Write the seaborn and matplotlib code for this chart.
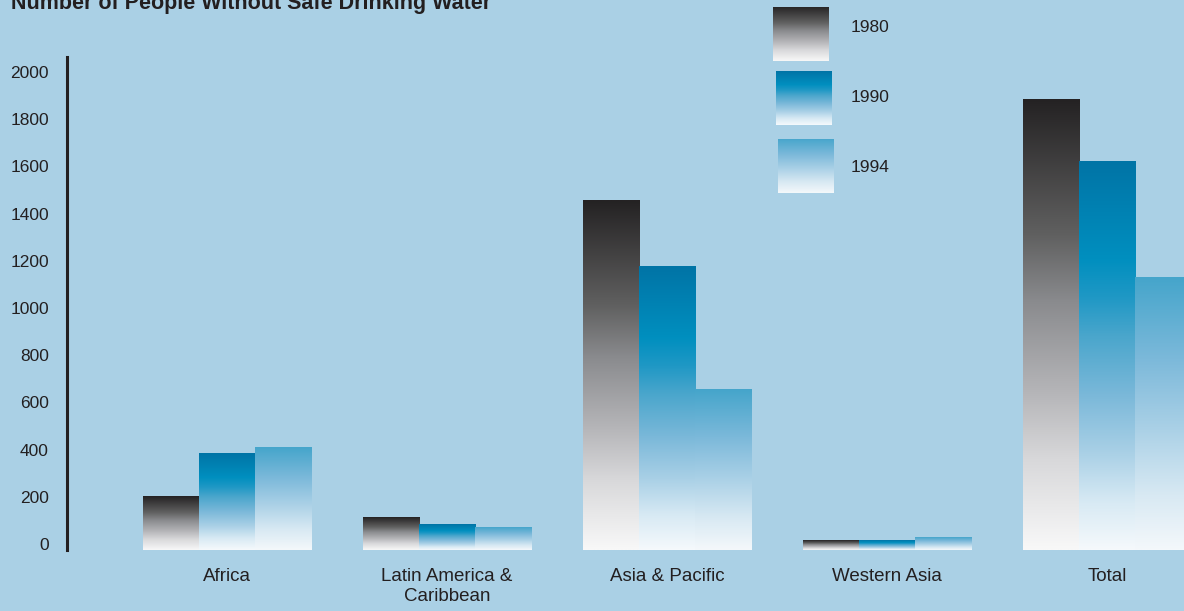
import numpy as np
import pandas as pd
import seaborn as sns
import matplotlib.pyplot as plt
from matplotlib.colors import LinearSegmentedColormap

# data
regions = ['Africa', 'Latin America &\nCaribbean', 'Asia & Pacific', 'Western Asia', 'Total']
years = ['1980', '1990', '1994']
people_1980 = [225, 136, 1483, 42, 1907]
people_1990 = [407, 106, 1203, 40, 1648]
people_1994 = [436, 97, 678, 51, 1153]
y_ticks = [0, 200, 400, 600, 800, 1000, 1200, 1400, 1600, 1800, 2000]

bg = '#aad0e5'
ink = '#231f20'

# gradient colormaps, first stop = bottom of the bar
cmaps = {
    '1980': LinearSegmentedColormap.from_list('g80', [
        (0.0, '#f8f8f8'), (0.2, '#d8d8da'), (0.35, '#b5b5b8'),
        (0.55, '#8a8b8e'), (0.7, '#606060'), (1.0, '#242223')]),
    '1990': LinearSegmentedColormap.from_list('g90', [
        (0.0, '#f5f9fc'), (0.12, '#d8eaf4'), (0.25, '#a9d0e6'),
        (0.4, '#7ab8d9'), (0.55, '#4aa6cc'), (0.65, '#1f98c5'),
        (0.75, '#008fbf'), (1.0, '#0074a6')]),
    '1994': LinearSegmentedColormap.from_list('g94', [
        (0.0, '#f4f8fb'), (0.2, '#d8e9f3'), (0.45, '#a9d0e6'),
        (0.7, '#7cb9da'), (1.0, '#45a5cb')]),
}

df = pd.DataFrame({
    'region': regions * 3,
    'year': [y for y in years for _ in regions],
    'people': people_1980 + people_1990 + people_1994,
})

sns.set_style('white')
plt.rcParams['font.family'] = ['Liberation Sans', 'DejaVu Sans']

fig = plt.figure(figsize=(11.84, 6.11), dpi=100, facecolor=bg)
ax = fig.add_axes([67 / 1184, 61 / 611, 1 - 67 / 1184, 493 / 611])
ax.set_facecolor('none')

sns.barplot(data=df, x='region', y='people', hue='year', width=0.764,
            legend=False, ax=ax, saturation=1, linewidth=0)

# replace flat fills with vertical gradients
grad = np.linspace(0, 1, 256).reshape(-1, 1)
for year, cont in zip(years, ax.containers):
    for bar in cont.patches:
        x0, w, h = bar.get_x(), bar.get_width(), bar.get_height()
        ax.imshow(grad, extent=[x0, x0 + w, 0, h], origin='lower',
                  aspect='auto', cmap=cmaps[year], zorder=2)
        bar.set_facecolor('none')

ax.set_xlim(-0.727, 4.35)
ax.set_ylim(0, 2089)
ax.set_yticks(y_ticks)
ax.set_yticklabels([str(t) for t in y_ticks], fontsize=12.5, color=ink)
for lab in ax.get_yticklabels():
    lab.set_va('baseline')
ax.tick_params(axis='both', length=0)
ax.tick_params(axis='y', pad=13)
ax.tick_params(axis='x', pad=13, labelsize=13.5, labelcolor=ink)
ax.set_xlabel('')
ax.set_ylabel('')
for s in ['top', 'right', 'bottom']:
    ax.spines[s].set_visible(False)
ax.spines['left'].set_color(ink)
ax.spines['left'].set_linewidth(2.2)

# title, clipped by the top edge as in the original
fig.text(11 / 1184, 1 - 9 / 611, 'Number of People Without Safe Drinking Water',
         fontsize=15.5, fontweight='bold', color=ink, va='baseline', ha='left')

# legend with gradient swatches
swatches = [(773, 7), (776, 71), (778, 139)]
label_y = [27, 98, 167]
for year, (sx, sy), ly in zip(years, swatches, label_y):
    sax = fig.add_axes([sx / 1184, 1 - (sy + 54) / 611, 56 / 1184, 54 / 611])
    sax.imshow(grad, origin='lower', aspect='auto', cmap=cmaps[year])
    sax.set_axis_off()
    fig.text(851 / 1184, 1 - ly / 611, year, fontsize=12.5, color=ink,
             va='center', ha='left')

fig.savefig('out.png', dpi=100, facecolor=bg)
